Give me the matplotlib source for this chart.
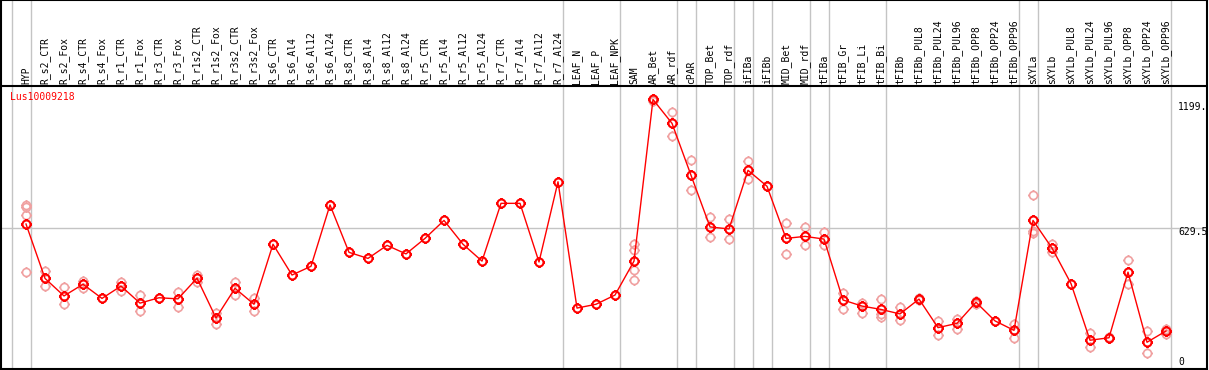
import matplotlib
matplotlib.use("Agg")
import matplotlib.pyplot as plt
from matplotlib.path import Path
import numpy as np

gene = "Lus10009218"

categories = [
    "HYP", "R_s2_CTR", "R_s2_Fox", "R_s4_CTR", "R_s4_Fox", "R_r1_CTR", "R_r1_Fox",
    "R_r3_CTR", "R_r3_Fox", "R_r1s2_CTR", "R_r1s2_Fox", "R_r3s2_CTR", "R_r3s2_Fox",
    "R_s6_CTR", "R_s6_Al4", "R_s6_Al12", "R_s6_Al24", "R_s8_CTR", "R_s8_Al4",
    "R_s8_Al12", "R_s8_Al24", "R_r5_CTR", "R_r5_Al4", "R_r5_Al12", "R_r5_Al24",
    "R_r7_CTR", "R_r7_Al4", "R_r7_Al12", "R_r7_Al24", "LEAF_N", "LEAF_P", "LEAF_NPK",
    "SAM", "AR_Bet", "AR_rdf", "cPAR", "TOP_Bet", "TOP_rdf", "iFIBa", "iFIBb",
    "MID_Bet", "MID_rdf", "tFIBa", "tFIB_Gr", "tFIB_Li", "tFIB_Bi", "tFIBb",
    "tFIBb_PUL8", "tFIBb_PUL24", "tFIBb_PUL96", "tFIBb_OPP8", "tFIBb_OPP24",
    "tFIBb_OPP96", "sXYLa", "sXYLb", "sXYLb_PUL8", "sXYLb_PUL24", "sXYLb_PUL96",
    "sXYLb_OPP8", "sXYLb_OPP24", "sXYLb_OPP96",
]

mean_values = [
    645, 403, 325, 377, 314, 369, 293, 317, 312, 404, 227, 359, 288,
    555, 418, 457, 730, 519, 492, 550, 512, 581, 661, 555, 480,
    737, 737, 476, 833, 271, 288, 329,
    480, 1199, 1093, 862, 632, 623, 884, 813, 581, 590, 578,
    307, 280, 265, 245, 311, 184, 203, 297, 214, 172,
    661, 538, 380, 128, 139, 431, 119, 169,
]

replicates = [
    [728, 720, 686, 430], [436, 368], [363, 288], [393, 362], [], [386, 348], [327, 256],
    [], [343, 278], [420, 386], [250, 200], [386, 331], [316, 257],
    [], [], [], [], [], [], [], [], [], [], [], [],
    [], [], [], [], [], [], [],
    [556, 528, 442, 395], [1193], [1145, 1035], [928, 795], [676, 586], [667, 577],
    [925, 844], [816], [648, 510], [632, 550], [608, 550],
    [338, 265], [295, 250], [311, 245, 233], [274, 218], [316, 305], [214, 151],
    [222, 179], [303, 291], [], [202, 136],
    [773, 615, 604], [556, 522], [], [160, 99], [141], [484, 377], [168, 71], [157, 176],
]

group_ends = [-1, 0, 28, 31, 34, 35, 37, 38, 39, 41, 42, 45, 52, 53, 60]
y_max = 1259
y_labels = ["1199.", "629.5", "0"]

# ---- layout ----
W, H = 1209, 370
fig = plt.figure(figsize=(W / 100, H / 100), dpi=100)
ax = fig.add_axes([1 / W, 1 / H, 1206 / W, 369 / H])
px_per_unit = 283 / y_max
top_val = 369 / px_per_unit
x0 = (1 - 26) / 19
x1 = (1207 - 26) / 19
ax.set_xlim(x0, x1)
ax.set_ylim(0, top_val)
ax.set_xticks([])
ax.set_yticks([])
for s in ax.spines.values():
    s.set_linewidth(1.5)
    s.set_color("black")

grey = "#c4c4c4"
for g in group_ends:
    ax.axvline(g + 0.24, color=grey, lw=1.0, zorder=1)
ax.axhline(y_max / 2, color=grey, lw=1.0, zorder=1)
ax.axhline(y_max, color="black", lw=1.5, zorder=3)

# custom marker: circle with little ticks
circ = Path.unit_circle()
ticks = []
for ang in [0, 90, 180, 270]:
    a = np.deg2rad(ang)
    ticks.append(Path([(np.cos(a), np.sin(a)), (1.35 * np.cos(a), 1.35 * np.sin(a))],
                      [Path.MOVETO, Path.LINETO]))
gear = Path.make_compound_path(circ, *ticks)

xs = np.arange(len(categories))
mono = "DejaVu Sans Mono"

# replicates
rx, ry = [], []
for i, reps in enumerate(replicates):
    for v in reps:
        rx.append(i)
        ry.append(v)
ax.plot(rx, ry, linestyle="none", marker=gear, markersize=7.8, mfc="none",
        mec="#f0a0a0", mew=1.2, zorder=4)

ax.plot(xs, mean_values, color="red", lw=1.0, zorder=5)
ax.plot(xs, mean_values, linestyle="none", marker=gear, markersize=7.8, mfc="none",
        mec="red", mew=1.5, zorder=6)

# header labels
label_y = (369 - 84) / px_per_unit
for i, c in enumerate(categories):
    ax.text(i, label_y, c, rotation=90, ha="center", va="bottom",
            fontsize=7, family=mono, color="black", zorder=7)

ax.text((10 - 26) / 19, (369 - 97) / px_per_unit, gene, color="red",
        fontsize=7, family=mono, ha="left", va="center", zorder=7)

xl = (1178 - 26) / 19
for txt, py in zip(y_labels, [107, 232, 362]):
    ax.text(xl, (369 - py) / px_per_unit, txt, fontsize=7, family=mono,
            ha="left", va="center", color="black", zorder=7)

fig.savefig("out.png", dpi=100)
